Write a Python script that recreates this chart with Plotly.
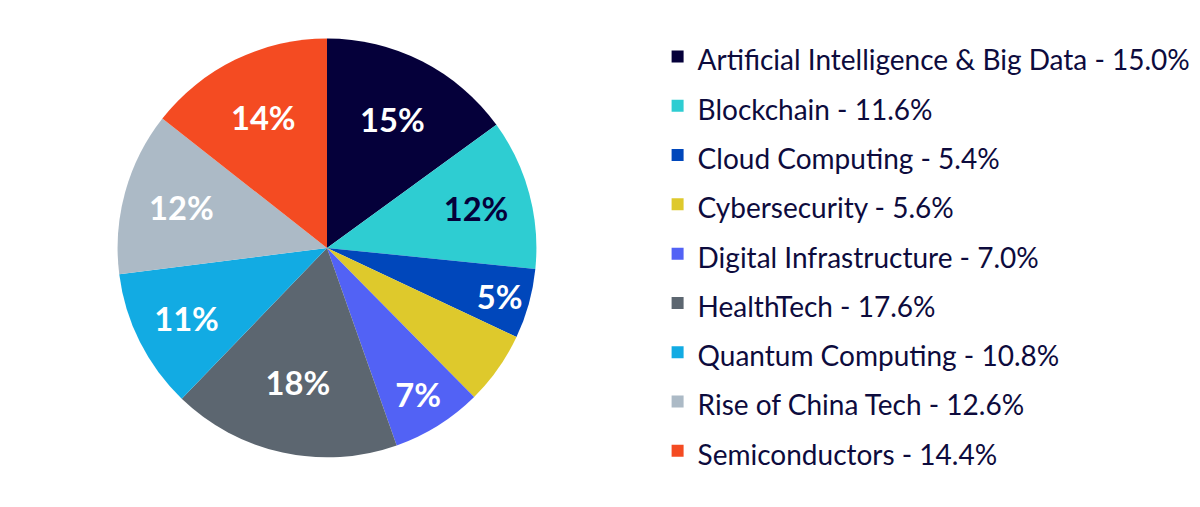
import plotly.graph_objects as go

categories = [
    "Artificial Intelligence & Big Data",
    "Blockchain",
    "Cloud Computing",
    "Cybersecurity",
    "Digital Infrastructure",
    "HealthTech",
    "Quantum Computing",
    "Rise of China Tech",
    "Semiconductors",
]
weights = [15.0, 11.6, 5.4, 5.6, 7.0, 17.6, 10.8, 12.6, 14.4]
slice_labels = ["15%", "12%", "5%", "", "7%", "18%", "11%", "12%", "14%"]

colors = ["#05003a", "#2ecdd2", "#0047bb", "#dec92c", "#5262f5",
          "#5c6670", "#12abe3", "#acbac6", "#f44b22"]
label_colors = ["white", "#05003a", "white", "white", "white",
                "white", "white", "white", "white"]

NAVY = "#0d0b3d"

# legend row height comes from legend font size, the visible text is sized by the span
legend_names = [
    f"<span style='font-size:28px'>{c} - {w:.1f}%</span>"
    for c, w in zip(categories, weights)
]

fig = go.Figure(go.Pie(
    labels=legend_names,
    values=weights,
    text=slice_labels,
    texttemplate="%{text}",
    textposition="inside",
    insidetextorientation="horizontal",
    textfont=dict(family="Lato", size=33, color=label_colors, weight="bold"),
    marker=dict(colors=colors, line=dict(width=0)),
    sort=False,
    direction="clockwise",
    hole=0,
    domain=dict(x=[0.098, 0.447], y=[0.097, 0.925]),
    hovertemplate="%{label}<extra></extra>",
))

fig.update_layout(
    width=1200,
    height=507,
    paper_bgcolor="white",
    plot_bgcolor="white",
    margin=dict(l=0, r=0, t=0, b=0),
    showlegend=True,
    legend=dict(
        x=0.548, y=0.947, xanchor="left", yanchor="top",
        font=dict(family="Lato", size=35.6, color=NAVY),
        bgcolor="rgba(0,0,0,0)",
        itemclick=False,
    ),
    uniformtext=dict(minsize=10, mode="show"),
)

fig.write_html(
    "out.html",
    config={"displayModeBar": False},
    post_script="document.body.style.margin='0';",
)
